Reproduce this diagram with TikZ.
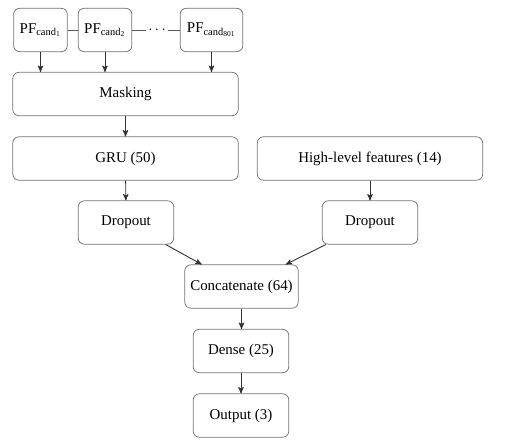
\documentclass[tikz,border=0pt]{standalone}
\usepackage{fontspec}
\setmainfont{Liberation Serif}
\usetikzlibrary{arrows}

\begin{document}
\begin{tikzpicture}[x=0.67pt, y=-0.67pt, >=stealth',
		box/.style={draw=black!55, line width=0.5pt, rounded corners=4pt, minimum height=29pt, inner sep=2pt},
		link/.style={->, color=black!80, line width=0.6pt}]
			\useasboundingbox (0,0) rectangle (512,447);

			\node[box, minimum width=36pt] (pf1) at (40.5, 30) {PF\textsubscript{cand\textsubscript{1}}};
			\node[box, minimum width=36pt] (pf2) at (105, 30) {PF\textsubscript{cand\textsubscript{2}}};
			\node[inner sep=1.5pt] (dots) at (157, 30) {$\cdots$};
			\node[box, minimum width=42pt] (pf801) at (211.5, 30) {PF\textsubscript{cand\textsubscript{801}}};

			\node[box, minimum width=151pt] (mask) at (125.5, 94) {Masking};

			\node[box, minimum width=151pt] (gru) at (125.5, 158.5) {GRU (50)};
			\node[box, minimum width=151pt] (hl) at (370, 158.5) {High-level features (14)};

			\node[box, minimum width=64pt] (dl) at (126, 222.5) {Dropout};
			\node[box, minimum width=64pt] (dr) at (370, 222.5) {Dropout};

			\node[box, minimum width=76pt] (cat) at (241.5, 286.5) {Concatenate (64)};

			\node[box, minimum width=64pt] (dense) at (241, 351) {Dense (25)};
			\node[box, minimum width=64pt] (out) at (241, 415.5) {Output (3)};

			\draw[color=black!65, line width=0.5pt] (pf1) -- (pf2);
			\draw[color=black!65, line width=0.5pt] (pf2) -- (dots);
			\draw[color=black!65, line width=0.5pt] (dots) -- (pf801);

			\foreach \p in {pf1, pf2, pf801}
			\draw[link] (\p) -- (\p |- mask.north);

			\draw[link] (mask) -- (gru);
			\draw[link] (gru) -- (dl);
			\draw[link] (hl) -- (dr);

			\draw[link] (dl) -- (cat);
			\draw[link] (dr) -- (cat);

			\draw[link] (cat.south) -- (cat.south |- dense.north);
			\draw[link] (dense) -- (out);
		\end{tikzpicture}
\end{document}
